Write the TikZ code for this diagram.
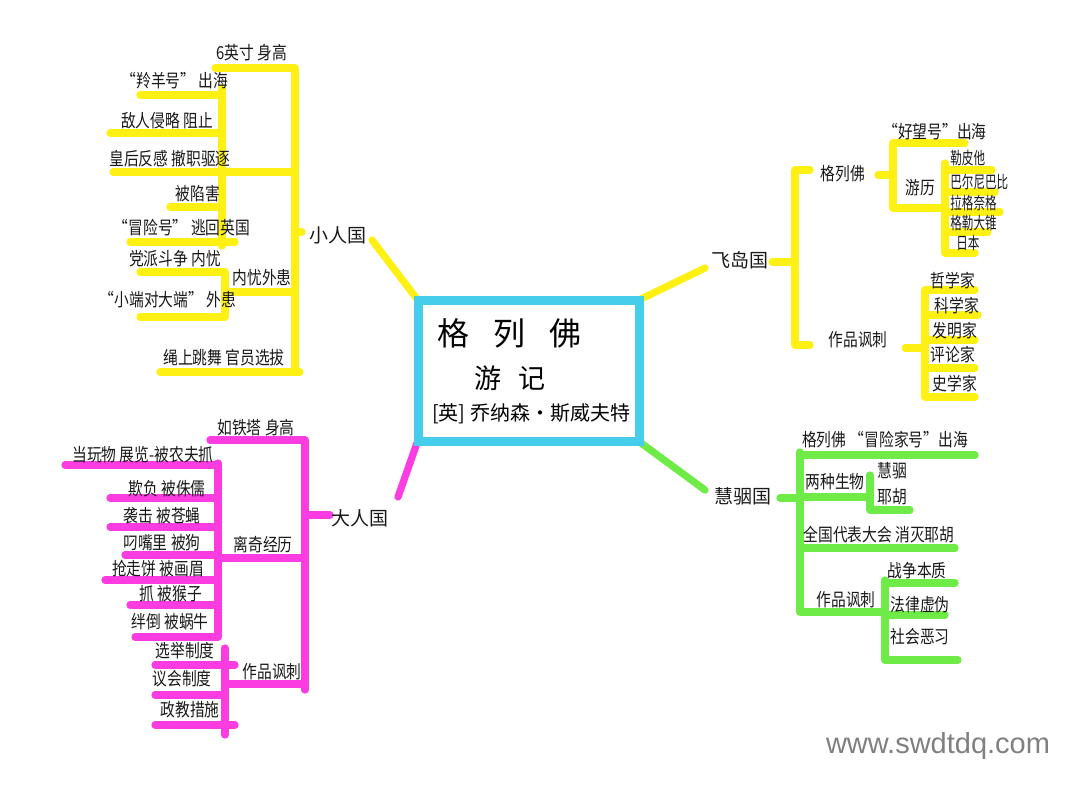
\documentclass[tikz,border=0pt]{standalone}
\usepackage{fontspec}
\newfontfamily\cjk[FakeStretch=0.82]{Noto Sans CJK SC}
\newfontfamily\cjkn[FakeStretch=0.68]{Noto Sans CJK SC}
\newfontfamily\cjkw{Noto Sans CJK SC}
\setsansfont{Liberation Sans}
\begin{document}
\begin{tikzpicture}[x=0.5pt,y=-0.5pt,
  hl/.style={line width=3.6pt,line cap=round,line join=round},
  ylw/.style={hl,draw=hlyellow},
  mag/.style={hl,draw=hlmagenta},
  grn/.style={hl,draw=hlgreen},
  lbl/.style={font=\cjk\fontsize{9}{9}\selectfont,inner sep=0pt,text=black!90},
  nrw/.style={font=\cjkn\fontsize{8.5}{8.5}\selectfont,inner sep=0pt,text=black!90,anchor=west},
  big/.style={font=\cjkw\fontsize{9.5}{9.5}\selectfont,inner sep=0pt,text=black!90}]
\definecolor{hlyellow}{RGB}{255,240,20}
\definecolor{hlmagenta}{RGB}{250,60,225}
\definecolor{hlgreen}{RGB}{110,235,70}
\definecolor{hlcyan}{RGB}{70,205,235}
\useasboundingbox[fill=white] (0,0) rectangle (1080,791);

% central box
\node[draw=hlcyan,line width=3pt,minimum width=109pt,minimum height=69pt,inner sep=0pt] (box) at (529,371) {};
\node[font=\cjkw\fontsize{16}{16}\selectfont,inner sep=0pt] (t1) at (509,333) {格\hspace{12pt}列\hspace{12pt}佛};
\node[font=\cjkw\fontsize{13.5}{13.5}\selectfont,inner sep=0pt] (t2) at (510,378) {游\hspace{9pt}记};
\node[font=\cjkw\fontsize{10}{10}\selectfont,inner sep=0pt] (t3) at (531,414) {[英] 乔纳森·斯威夫特};

% connectors from the box
\coordinate (cL) at (372,240);
\coordinate (cF) at (705,268);
\coordinate (cB) at (398,497);
\coordinate (cH) at (705,490);
\draw[ylw] (box.north west) -- (cL);
\draw[ylw] (box.north east) -- (cF);
\draw[mag] (box.south west) -- (cB);
\draw[grn] (box.south east) -- (cH);
\fill[olive!70!black] (box.north west) circle (3);
\fill[green!60!black] (box.north east) circle (3);
\fill[green!50!black] (box.south east) circle (3);
\fill[violet] (box.south west) circle (3);
\draw[line width=3pt,hlcyan] (box.north west) rectangle (box.south east);

% ---------------- Lilliput (yellow)
\draw[ylw] (215,68) -- (295,68) -- (295,372);
\draw[ylw] (222,88) -- (222,246);
\draw[ylw] (140,95) -- (222,95);
\draw[ylw] (110,133) -- (222,133);
\draw[ylw] (113,172) -- (295,172);
\draw[ylw] (170,207) -- (222,207);
\draw[ylw] (130,242) -- (235,242);
\draw[ylw] (140,272) -- (225,272) -- (225,317) -- (140,317);
\draw[ylw] (225,292) -- (295,292);
\draw[ylw] (160,372) -- (300,372);
\draw[ylw] (295,232) -- (302,232);

\node[big] (xr) at (338,235) {小人国};
\node[lbl] (l1) at (252,53) {6英寸\ 身高};
\node[lbl] (l2) at (175,81) {“羚羊号”\ 出海};
\node[lbl] (l3) at (167,121) {敌人侵略\ 阻止};
\node[lbl] (l4) at (170,159) {皇后反感\ 撤职驱逐};
\node[lbl] (l5) at (198,194) {被陷害};
\node[lbl] (l6) at (182,228) {“冒险号”\ 逃回英国};
\node[lbl] (l7) at (175,259) {党派斗争\ 内忧};
\node[lbl] (l8) at (168,300) {“小端对大端”\ 外患};
\node[lbl] (l9) at (262,278) {内忧外患};
\node[lbl] (l10) at (224,358) {绳上跳舞\ 官员选拔};

% ---------------- Flying island (yellow)
\draw[ylw] (772,262) -- (795,262);
\draw[ylw] (810,170) -- (795,170) -- (795,345) -- (810,345);
\draw[ylw] (878,175) -- (893,175);
\draw[ylw] (965,143) -- (893,143) -- (893,208) -- (945,208);
\draw[ylw] (945,163) -- (945,253) -- (975,253);
\draw[ylw] (945,170) -- (992,170);
\draw[ylw] (945,192) -- (995,192);
\draw[ylw] (945,212) -- (1000,212);
\draw[ylw] (945,232) -- (988,232);
\draw[ylw] (905,348) -- (925,348);
\draw[ylw] (975,290) -- (925,290) -- (925,397) -- (975,397);
\draw[ylw] (925,315) -- (978,315);
\draw[ylw] (925,340) -- (975,340);
\draw[ylw] (925,368) -- (975,368);

\node[big] (fd) at (740,260) {飞岛国};
\node[lbl] (f1) at (843,174) {格列佛};
\node[lbl] (f2) at (935,132) {“好望号”出海};
\node[lbl] (f3) at (920,188) {游历};
\node[nrw] (f4) at (950,158) {勒皮他};
\node[nrw] (f5) at (950,182) {巴尔尼巴比};
\node[nrw] (f6) at (950,203) {拉格奈格};
\node[nrw] (f7) at (950,223) {格勒大锥};
\node[nrw] (f8) at (956,243) {日本};
\node[lbl] (f9) at (858,340) {作品讽刺};
\node[lbl] (f10) at (953,281) {哲学家};
\node[lbl] (f11) at (957,306) {科学家};
\node[lbl] (f12) at (955,331) {发明家};
\node[lbl] (f13) at (953,355) {评论家};
\node[lbl] (f14) at (955,384) {史学家};

% ---------------- Brobdingnag (magenta)
\draw[mag] (305,515) -- (330,515);
\draw[mag] (210,440) -- (305,440) -- (305,690);
\draw[mag] (218,463) -- (218,637);
\draw[mag] (65,465) -- (218,465);
\draw[mag] (110,498) -- (218,498);
\draw[mag] (110,527) -- (218,527);
\draw[mag] (125,555) -- (218,555);
\draw[mag] (105,580) -- (218,580);
\draw[mag] (130,605) -- (218,605);
\draw[mag] (135,637) -- (218,637);
\draw[mag] (218,558) -- (305,558);
\draw[mag] (225,684) -- (305,684);
\draw[mag] (225,648) -- (225,735);
\draw[mag] (155,665) -- (235,665);
\draw[mag] (155,695) -- (225,695);
\draw[mag] (155,725) -- (235,725);

\node[big] (dr) at (360,518) {大人国};
\node[lbl] (b1) at (256,428) {如铁塔\ 身高};
\node[lbl] (b2) at (143,455) {当玩物\ 展览-被农夫抓};
\node[lbl] (b3) at (167,489) {欺负\ 被侏儒};
\node[lbl] (b4) at (162,516) {袭击\ 被苍蝇};
\node[lbl] (b5) at (162,543) {叼嘴里\ 被狗};
\node[lbl] (b6) at (158,569) {抢走饼\ 被画眉};
\node[lbl] (b7) at (171,594) {抓\ 被猴子};
\node[lbl] (b8) at (170,622) {绊倒\ 被蜗牛};
\node[lbl] (b9) at (263,545) {离奇经历};
\node[lbl] (b10) at (272,672) {作品讽刺};
\node[lbl] (b11) at (185,651) {选举制度};
\node[lbl] (b12) at (182,679) {议会制度};
\node[lbl] (b13) at (190,710) {政教措施};

% ---------------- Houyhnhnm (green)
\draw[grn] (780,498) -- (800,498);
\draw[grn] (800,452) -- (800,612);
\draw[grn] (800,455) -- (975,455);
\draw[grn] (800,497) -- (870,497);
\draw[grn] (870,475) -- (870,510) -- (910,510);
\draw[grn] (800,548) -- (955,548);
\draw[grn] (800,612) -- (885,612);
\draw[grn] (885,580) -- (885,660);
\draw[grn] (885,583) -- (955,583);
\draw[grn] (885,615) -- (945,615);
\draw[grn] (885,660) -- (958,660);

\node[big] (hm) at (743,496) {慧骃国};
\node[lbl] (h1) at (885,440) {格列佛\ “冒险家号”出海};
\node[lbl] (h2) at (835,482) {两种生物};
\node[lbl] (h3) at (892,471) {慧骃};
\node[lbl] (h4) at (892,497) {耶胡};
\node[lbl] (h5) at (879,535) {全国代表大会\ 消灭耶胡};
\node[lbl] (h6) at (846,600) {作品讽刺};
\node[lbl] (h7) at (917,571) {战争本质};
\node[lbl] (h8) at (920,605) {法律虚伪};
\node[lbl] (h9) at (920,637) {社会恶习};

% watermark
\node[font=\sffamily\fontsize{14.5}{14.5}\selectfont,text=black!50,inner sep=0pt] (wm) at (938,746) {www.swdtdq.com};
\end{tikzpicture}
\end{document}
